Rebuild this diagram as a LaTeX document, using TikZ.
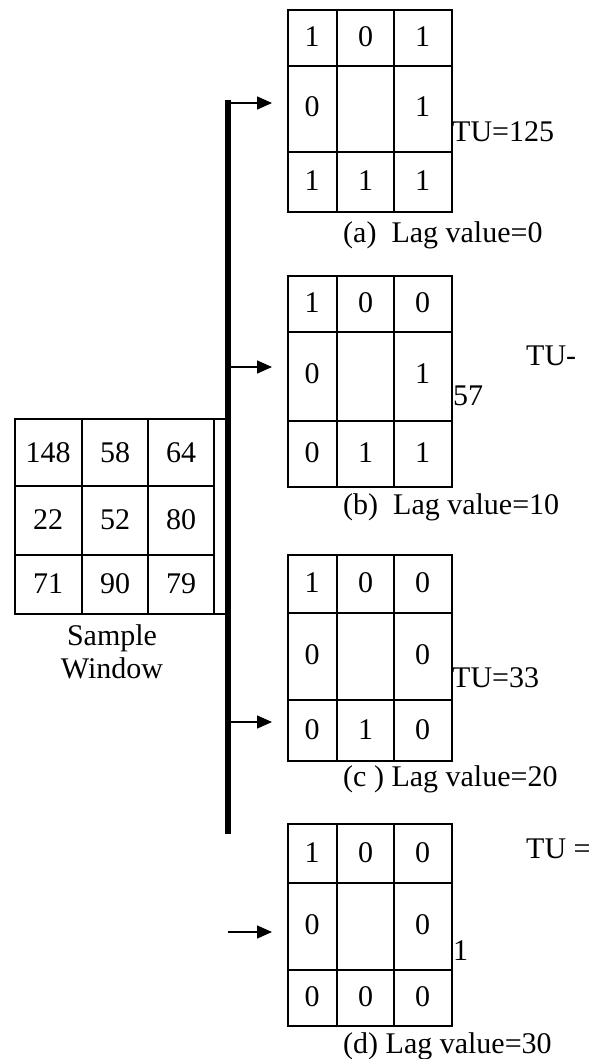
\documentclass[tikz,border=0pt]{standalone}
\usepackage{fontspec}
\setmainfont{Liberation Serif}
\usetikzlibrary{arrows.meta}
\tikzset{
  cellline/.style={line width=2pt},
  frame/.style={draw, line width=2pt, inner sep=0pt, anchor=north west},
  num/.style={inner sep=0pt, anchor=center},
  lbl/.style={inner sep=0pt, anchor=base west},
  busline/.style={line width=6pt},
  arr/.style={line width=1.5pt, -{Triangle[length=15pt,width=13pt]}, shorten >=15pt},
}
\newcommand\gridR[5]{% name, top, row1, row2, bottom
  \node[frame, minimum width=164pt, minimum height={#5-#2}] (#1) at (287,#2) {};
  \draw[cellline] (287,#3) -- (451,#3) (287,#4) -- (451,#4) (337,#2) -- (337,#5) (394,#2) -- (394,#5);}
\newcommand\rowR[5]{% prefix, y, a, b, c
  \node[num] (#1a) at (312,#2) {#3};
  \node[num] (#1b) at (365.5,#2) {#4};
  \node[num] (#1c) at (422.5,#2) {#5};}
\begin{document}
\begin{tikzpicture}[x=1pt,y=-1pt,font=\fontsize{30}{34}\selectfont]
\useasboundingbox (0,0) rectangle (597,1059);
% sample window
\node[frame, minimum width=211pt, minimum height=195pt] (sw) at (14,418) {};
\draw[cellline] (14,486) -- (214,486) (14,555) -- (214,555)
  (82,418) -- (82,613) (148,418) -- (148,613) (214,418) -- (214,613);
\node[num] (s11) at (48,453) {148};
\node[num] (s12) at (115,453) {58};
\node[num] (s13) at (181,453) {64};
\node[num] (s21) at (48,520) {22};
\node[num] (s22) at (115,520) {52};
\node[num] (s23) at (181,520) {80};
\node[num] (s31) at (48,584) {71};
\node[num] (s32) at (115,584) {90};
\node[num] (s33) at (181,584) {79};
\node[inner sep=0pt, anchor=base] (swl1) at (112,645) {Sample};
\node[inner sep=0pt, anchor=base] (swl2) at (112,678) {Window};
% bus
\coordinate (busTop) at (228,100);
\coordinate (busBot) at (228,834);
\draw[busline] (busTop) -- (busBot);
% table a
\gridR{tA}{9}{66}{152}{211}
\rowR{A1}{37}{1}{0}{1}
\rowR{A2}{107}{0}{}{1}
\rowR{A3}{181}{1}{1}{1}
\node[lbl] (tuA) at (452,142) {TU=125};
\node[lbl] (lagA) at (343,243) {(a)\ \ Lag value=0};
% table b
\gridR{tB}{275}{332}{421}{486}
\rowR{B1}{303}{1}{0}{0}
\rowR{B2}{374}{0}{}{1}
\rowR{B3}{453}{0}{1}{1}
\node[lbl] (tuB) at (526,365) {TU-};
\node[lbl] (tuB2) at (453,405) {57};
\node[lbl] (lagB) at (343,514) {(b)\ \ Lag value=10};
% table c
\gridR{tC}{554}{613}{700}{760}
\rowR{C1}{583}{1}{0}{0}
\rowR{C2}{655}{0}{}{0}
\rowR{C3}{730}{0}{1}{0}
\node[lbl] (tuC) at (452,687) {TU=33};
\node[lbl] (lagC) at (343,786) {(c ) Lag value=20};
% table d
\gridR{tD}{823}{883}{970}{1025}
\rowR{D1}{853}{1}{0}{0}
\rowR{D2}{925}{0}{}{0}
\rowR{D3}{997}{0}{0}{0}
\node[lbl] (tuD) at (526,858) {TU =};
\node[lbl] (tuD2) at (453,960) {1};
\node[lbl] (lagD) at (343,1053) {(d) Lag value=30};
% arrows
\coordinate (aA) at (231,103);
\coordinate (aB) at (231,367);
\coordinate (aC) at (231,722);
\coordinate (aD) at (228,932);
\draw[arr] (aA) -- (aA -| tA.west);
\draw[arr] (aB) -- (aB -| tB.west);
\draw[arr] (aC) -- (aC -| tC.west);
\draw[arr] (aD) -- (aD -| tD.west);
\end{tikzpicture}
\end{document}
